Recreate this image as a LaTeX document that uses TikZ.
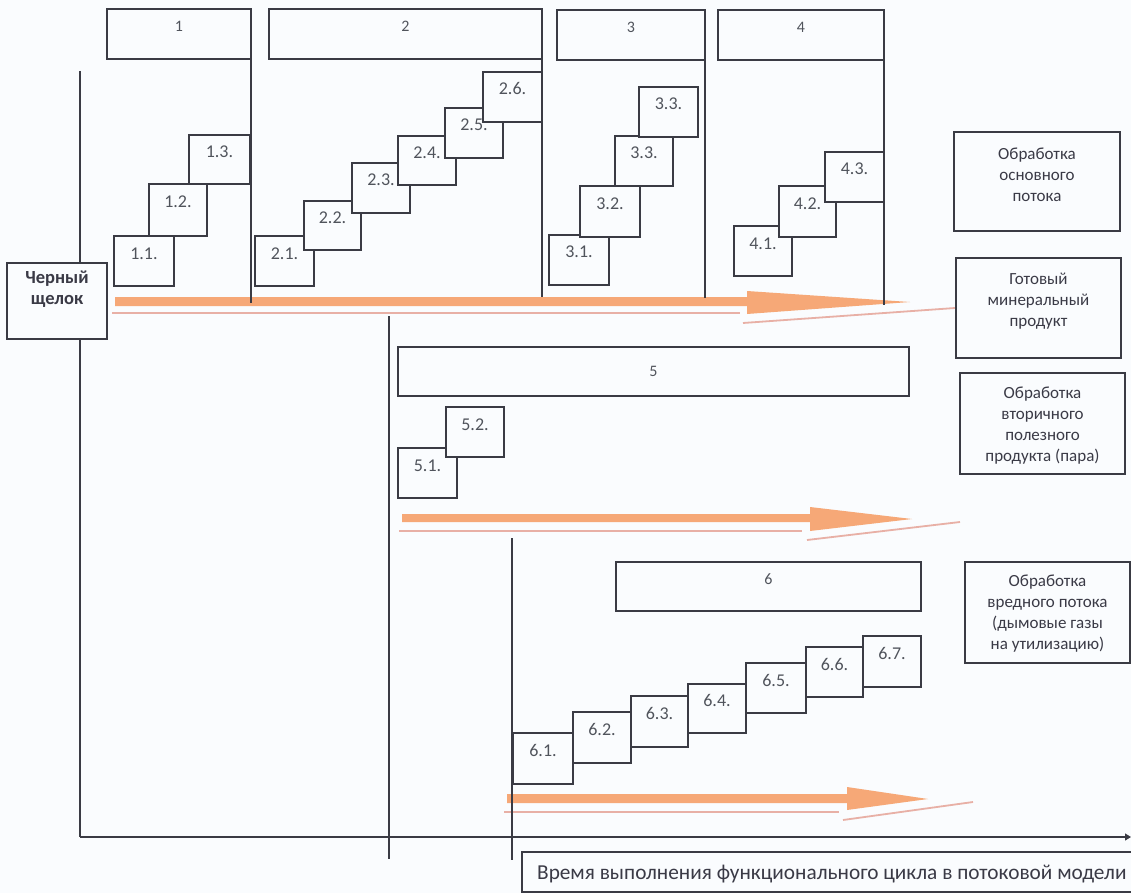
\documentclass[tikz,border=0pt]{standalone}
\usepackage{fontspec}
\setmainfont{Carlito}
\usetikzlibrary{arrows.meta,calc}
\definecolor{linec}{HTML}{3A3B44}
\definecolor{numc}{HTML}{50545C}
\definecolor{txtc}{HTML}{3A3A46}
\definecolor{bandc}{HTML}{F6A877}
\definecolor{shadc}{HTML}{E8B0A6}
\definecolor{bgc}{HTML}{FAFCFE}
\tikzset{
  frame/.style={draw=linec, line width=1.2pt, fill=bgc, outer sep=0pt, inner sep=0pt},
  sbox/.style={frame, font=\fontsize{18}{20}\selectfont, text=numc, text height=11pt, text depth=15pt},
  hbox/.style={frame, font=\fontsize{16}{20}\selectfont, text=numc, text height=11pt, text depth=15pt},
  ebox/.style={frame},
  rtext/.style={align=center, font=\fontsize{17}{21}\selectfont, text=txtc, inner sep=0pt},
  ln/.style={draw=linec, line width=1.2pt},
  band/.style={fill=bandc, draw=none},
  shad/.style={draw=shadc, line width=1.8pt}
}
\newcommand\pbox[7]{\node[#1, anchor=north west, minimum width={#4-#2}, minimum height={#5-#3}] (#6) at (#2,#3) {#7};}
\begin{document}
\begin{tikzpicture}[x=1pt,y=-1pt]
\useasboundingbox (0,0) rectangle (1131,893);
\fill[bgc] (0,0) rectangle (1131,893);

% axes
\coordinate (axtop) at (80,71);
\coordinate (axorg) at (80,837);
\coordinate (axend) at (1131,837);
\pbox{ebox}{7}{263}{107}{339}{chern}{}
\node[rtext, font=\bfseries\fontsize{18.5}{21}\selectfont] (cherntxt) at ($(chern.center)+(0,-12)$) {Черный\\щелок};
\draw[ln] (axtop) -- (chern.north -| axtop);
\draw[ln] (chern.south -| axtop) -- (axorg);
\draw[ln, -{Triangle[length=6pt,width=7pt]}] (axorg) -- (axend);

% orange flows
\fill[band] (115,297) -- (747,297) -- (747,291) -- (910,302) -- (747,314) -- (747,306) -- (115,306) -- cycle;
\draw[shad] (112,313) -- (740,313);
\draw[shad] (743,323) -- (955,308);

\fill[band] (402,514) -- (810,514) -- (810,507) -- (912,519) -- (810,531) -- (810,522) -- (402,522) -- cycle;
\draw[shad] (399,531) -- (802,531);
\draw[shad] (807,540) -- (960,522);

\fill[band] (507,794) -- (847,794) -- (847,787) -- (928,799) -- (847,810) -- (847,803) -- (507,803) -- cycle;
\draw[shad] (504,812) -- (839,812);
\draw[shad] (843,820) -- (973,802);

% header boxes
\pbox{hbox}{107}{9}{251}{59}{h1}{1}
\pbox{hbox}{269}{9}{542}{59}{h2}{2}
\pbox{hbox}{557}{10}{705}{60}{h3}{3}
\pbox{hbox}{718}{10}{884}{60}{h4}{4}
\draw[ln] (h1.south east) -- ++(0,244);
\draw[ln] (h2.south east) -- ++(0,238);
\draw[ln] (h3.south east) -- ++(0,238);
\draw[ln] (h4.south east) -- ++(0,245);

% group 1
\pbox{sbox}{114}{236}{174}{286}{b11}{1.1.}
\pbox{sbox}{149}{184}{207}{236}{b12}{1.2.}
\pbox{sbox}{189}{135}{250}{184}{b13}{1.3.}
% group 2
\pbox{sbox}{255}{236}{314}{286}{b21}{2.1.}
\pbox{sbox}{304}{201}{361}{250}{b22}{2.2.}
\pbox{sbox}{352}{163}{410}{213}{b23}{2.3.}
\pbox{sbox}{398}{136}{456}{185}{b24}{2.4.}
\pbox{sbox}{445}{108}{503}{158}{b25}{2.5.}
\pbox{sbox}{483}{72}{542}{122}{b26}{2.6.}
% group 3
\pbox{sbox}{549}{235}{609}{285}{b31}{3.1.}
\pbox{sbox}{580}{186}{640}{237}{b32}{3.2.}
\pbox{sbox}{615}{136}{673}{186}{b33}{3.3.}
\pbox{sbox}{639}{87}{698}{137}{b34}{3.3.}
% group 4
\pbox{sbox}{734}{226}{792}{276}{b41}{4.1.}
\pbox{sbox}{779}{186}{836}{237}{b42}{4.2.}
\pbox{sbox}{825}{152}{884}{202}{b43}{4.3.}

% group 5
\coordinate (v5top) at (389,316);
\coordinate (v5bot) at (389,859);
\draw[ln] (v5top) -- (v5bot);
\node[frame, anchor=north west, minimum width=511, minimum height=49, font=\fontsize{16}{20}\selectfont, text=numc] (h5) at (398,347) {5};
\pbox{sbox}{398}{448}{457}{498}{b51}{5.1.}
\pbox{sbox}{446}{407}{504}{457}{b52}{5.2.}

% group 6
\coordinate (v6top) at (512,538);
\coordinate (v6bot) at (512,860);
\draw[ln] (v6top) -- (v6bot);
\pbox{hbox}{616}{562}{921}{611}{h6}{6}
\pbox{sbox}{513}{733}{573}{784}{b61}{6.1.}
\pbox{sbox}{573}{712}{631}{763}{b62}{6.2.}
\pbox{sbox}{631}{696}{688}{747}{b63}{6.3.}
\pbox{sbox}{688}{684}{746}{733}{b64}{6.4.}
\pbox{sbox}{746}{663}{806}{713}{b65}{6.5.}
\pbox{sbox}{806}{647}{863}{697}{b66}{6.6.}
\pbox{sbox}{863}{636}{921}{687}{b67}{6.7.}

% right-hand legend boxes
\pbox{ebox}{954}{132}{1120}{231}{r1}{}
\node[rtext] (r1t) at ($(r1.center)+(0,-7)$) {Обработка\\основного\\потока};
\pbox{ebox}{956}{258}{1121}{358}{r2}{}
\node[rtext] (r2t) at ($(r2.center)+(0,-7)$) {Готовый\\минеральный\\продукт};
\pbox{ebox}{960}{373}{1125}{474}{r3}{}
\node[rtext] (r3t) at ($(r3.center)+(0,2)$) {Обработка\\вторичного\\полезного\\продукта (пара)};
\pbox{ebox}{965}{562}{1130}{663}{r4}{}
\node[rtext] (r4t) at ($(r4.center)+(0,1)$) {Обработка\\вредного потока\\(дымовые газы\\на утилизацию)};

% time label
\pbox{ebox}{522}{852}{1140}{892}{tl}{}
\node[anchor=base west, inner sep=0pt, font=\fontsize{21.3}{24}\selectfont, text=txtc] (tlt) at (537,879) {Время выполнения функционального цикла в потоковой модели};
\end{tikzpicture}
\end{document}
